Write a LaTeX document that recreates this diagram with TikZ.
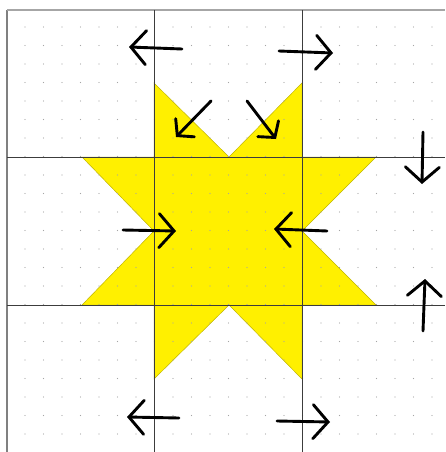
\documentclass[tikz,border=0pt]{standalone}
\usepackage{tikz}
\usetikzlibrary{arrows.meta}

\definecolor{quiltyellow}{RGB}{255,240,0}
\definecolor{seamgray}{RGB}{60,60,60}
\definecolor{dotgray}{RGB}{165,165,165}

\begin{document}
\begin{tikzpicture}[
x=1pt, y=-1pt,
seam/.style={draw=seamgray, line width=0.8pt},
patch/.style={fill=quiltyellow, draw=quiltyellow!75!black, line width=0.5pt},
move/.style={-{Straight Barb[length=15pt, width=34pt, line cap=round]}, line width=2.9pt, line cap=round},
smallmove/.style={-{Straight Barb[length=11pt, width=26pt, line cap=round]}, line width=2.9pt, line cap=round}
]
\useasboundingbox (0,0) rectangle (445,452);

% Star patches
\path[patch] (154,83) -- (229,157) -- (302,83) -- (302,157) -- (376,157)
  -- (302,231) -- (376,305) -- (302,305) -- (302,379) -- (229,305)
  -- (154,379) -- (154,305) -- (82,305) -- (154,231) -- (82,157)
  -- (154,157) -- cycle;

% Dot grid
\foreach \i in {0,...,22}
  \foreach \j in {0,...,22}
    \fill[dotgray] (25+18.5*\i, 27+18.5*\j) circle (0.7pt);

% Page border
\draw[gray, line width=1.8pt] (7,10) -- (7,452);
\draw[gray!70, line width=1.2pt] (7,10) -- (445,10);

% Seams
\draw[seam] (154,10) -- (154,452);
\draw[seam] (302,10) -- (302,452);
\draw[seam] (7,157) -- (445,157);
\draw[seam] (7,305) -- (445,305);

% Arrows, top
\draw[move] (182,49) -- (129,47);
\draw[move] (279,51) -- (333,53);
\draw[smallmove] (211,101) -- (176,137);
\draw[smallmove] (247,101) -- (276,139);

% Arrows, middle
\draw[move] (123,230) -- (176,231);
\draw[move] (327,231) -- (274,229);
\draw[move] (423,132) -- (422,184);
\draw[move] (423,331) -- (425,279);

% Arrows, bottom
\draw[move] (179,418) -- (127,417);
\draw[move] (277,421) -- (330,422);

\end{tikzpicture}
\end{document}
